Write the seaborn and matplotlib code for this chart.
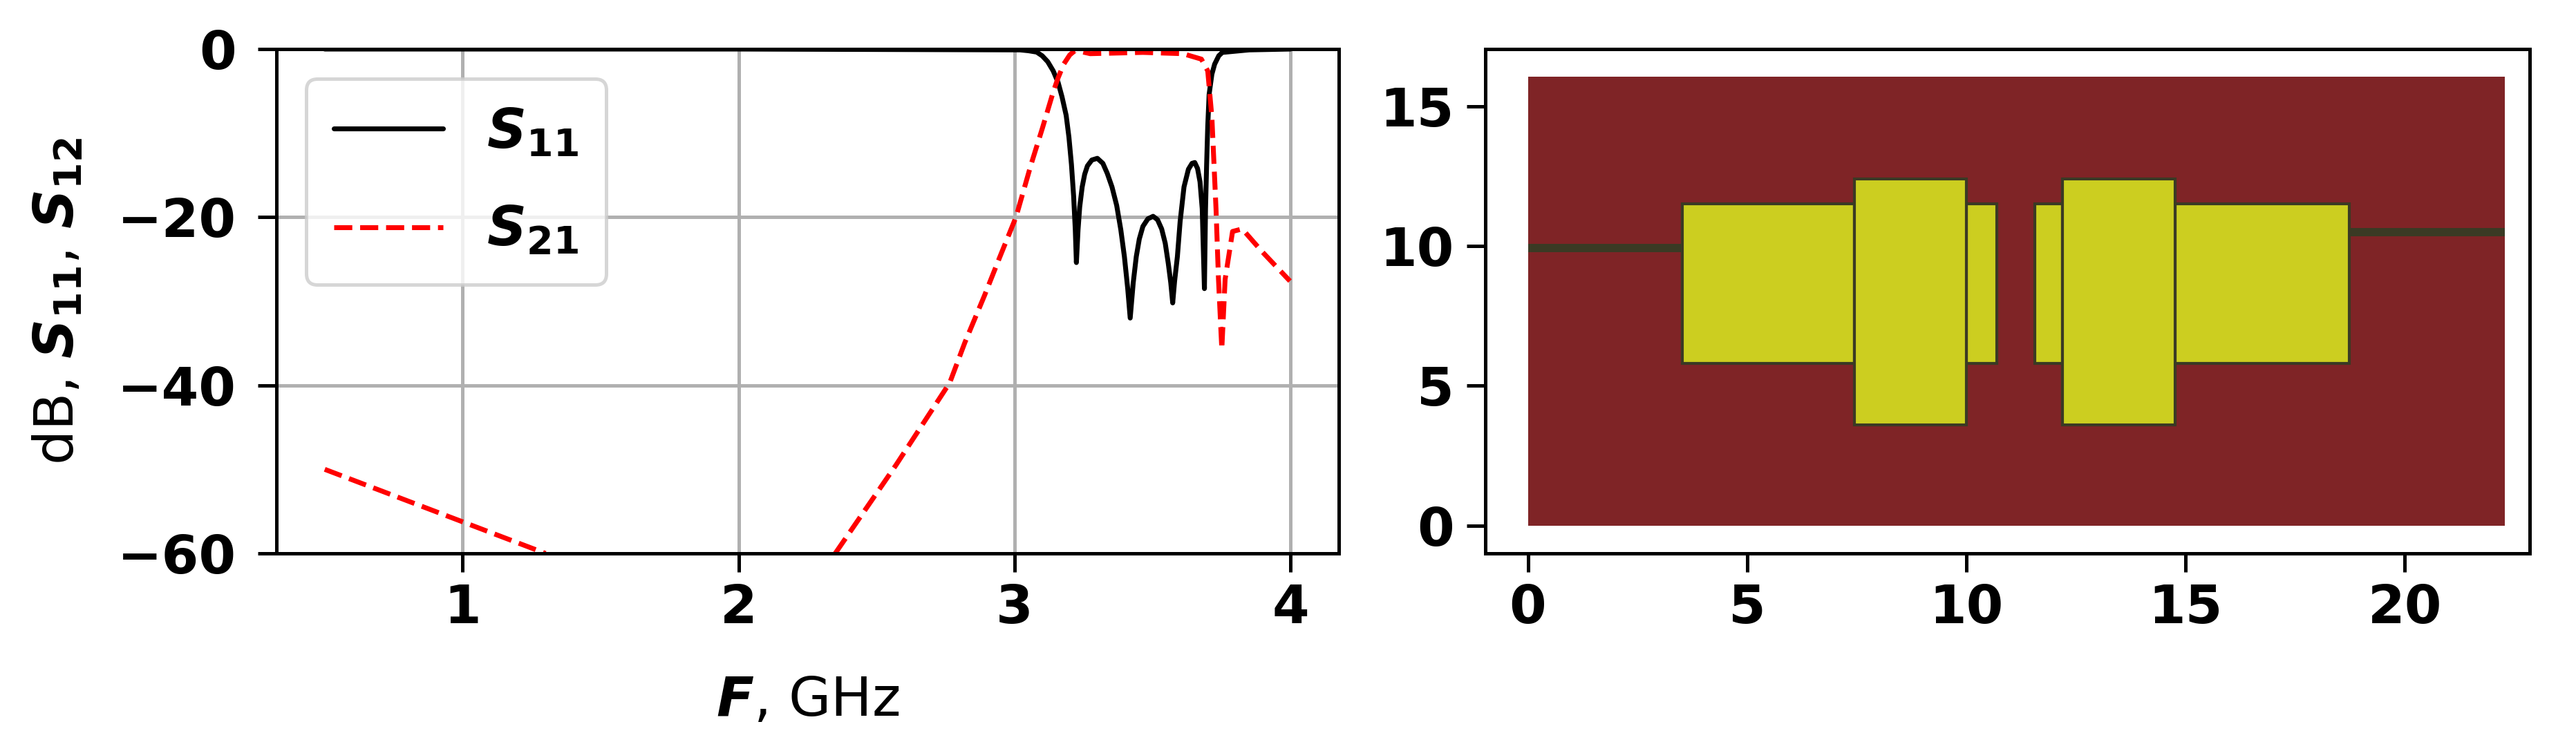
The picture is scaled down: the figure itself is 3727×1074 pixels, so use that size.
import matplotlib
matplotlib.use('Agg')
import pandas as pd
import seaborn as sns
import matplotlib.pyplot as plt

# S11
f_s11 = [0.5, 2.0, 3.02, 3.05, 3.08, 3.10, 3.12, 3.14, 3.158, 3.172, 3.187, 3.197, 3.206, 3.214, 3.22, 3.224,
         3.23, 3.236, 3.245, 3.254, 3.264, 3.28, 3.30, 3.32, 3.336, 3.353, 3.37, 3.385, 3.398, 3.41, 3.419,
         3.43, 3.441, 3.452, 3.465, 3.483, 3.502, 3.518, 3.533, 3.546, 3.557, 3.566, 3.573, 3.58, 3.59, 3.60,
         3.614, 3.63, 3.643, 3.653, 3.663, 3.672, 3.68, 3.688, 3.692, 3.696, 3.70, 3.705, 3.715, 3.725, 3.74,
         3.753, 3.85, 4.0]
s11 = [0.0, 0.0, -0.1, -0.2, -0.36, -0.8, -1.5, -2.6, -4.0, -5.7, -7.9, -10.5, -13.7, -17.5, -21.5, -25.4,
       -21.5, -18.8, -16.4, -14.9, -13.9, -13.2, -13.0, -13.6, -14.8, -16.4, -18.6, -21.5, -24.7, -28.5, -32.0,
       -27.8, -24.7, -22.6, -21.1, -20.2, -19.9, -20.3, -21.4, -23.1, -25.5, -27.8, -30.2, -27.6, -24.7, -20.5,
       -16.4, -14.3, -13.6, -13.5, -14.2, -15.8, -19.0, -28.5, -19.0, -13.7, -9.2, -5.4, -3.0, -1.8, -0.8,
       -0.4, -0.1, 0.0]

# S21 leaves the axes between 1.3 and 2.35 GHz, so two pieces
f_s21_low = [0.5, 1.3]
s21_low = [-50.0, -60.0]
f_s21 = [2.35, 2.57, 2.765, 2.82, 2.89, 2.947, 3.005, 3.06, 3.10, 3.14, 3.158, 3.178, 3.2, 3.22, 3.274, 3.465,
         3.61, 3.677, 3.70, 3.715, 3.73, 3.739, 3.751, 3.763, 3.79, 3.825, 3.897, 3.998]
s21 = [-60.0, -49.5, -39.7, -34.9, -29.4, -24.7, -20.0, -13.7, -9.5, -5.1, -3.4, -1.8, -0.7, -0.15, -0.55, -0.4,
       -0.55, -1.2, -2.6, -8.1, -19.0, -27.4, -35.7, -27.4, -21.7, -21.4, -24.1, -27.6]

# layout panel: substrate, patches, feed lines (mm)
substrate_x = [0.0, 22.28]
substrate_y = [0.0, 16.05]
patch_left = [3.52, 10.0, 11.57, 14.76, 7.45, 12.2]
patch_right = [7.45, 10.7, 12.2, 18.73, 10.0, 14.76]
patch_bottom = [5.8, 5.8, 5.8, 5.8, 3.6, 3.6]
patch_top = [11.5, 11.5, 11.5, 11.5, 12.4, 12.4]
feed_left = [0.0, 18.73]
feed_right = [3.52, 22.28]
feed_bottom = [9.78, 10.35]
feed_top = [10.08, 10.65]

sns.set_style('ticks')
plt.rcParams.update({'font.size': 19, 'font.weight': 'bold', 'axes.linewidth': 1.2, 'mathtext.fontset': 'dejavusans',
                     'xtick.major.size': 6.4, 'ytick.major.size': 6.4, 'xtick.major.width': 1.2,
                     'ytick.major.width': 1.2, 'xtick.color': 'black', 'ytick.color': 'black',
                     'text.color': 'black', 'axes.labelcolor': 'black', 'axes.edgecolor': 'black'})
plt.rcParams['font.family'] = ['DejaVu Sans']

fig = plt.figure(figsize=(3727 / 300, 1074 / 300), dpi=300)
ax1 = fig.add_axes([400 / 3727, 1 - 801 / 1074, 1537 / 3727, 730 / 1074])
ax2 = fig.add_axes([2149 / 3727, 1 - 801 / 1074, 1511 / 3727, 730 / 1074])

lab11 = r'$\mathbfit{S}_{\mathbf{11}}$'
lab21 = r'$\mathbfit{S}_{\mathbf{21}}$'
lab12 = r'$\mathbfit{S}_{\mathbf{12}}$'
sns.lineplot(data=pd.DataFrame({'f': f_s11, 'db': s11}), x='f', y='db', ax=ax1, color='black', lw=1.7,
             label=lab11, estimator=None, sort=False)
sns.lineplot(data=pd.DataFrame({'f': f_s21, 'db': s21}), x='f', y='db', ax=ax1, color='red', lw=1.7,
             linestyle='--', label=lab21, estimator=None, sort=False)
sns.lineplot(data=pd.DataFrame({'f': f_s21_low, 'db': s21_low}), x='f', y='db', ax=ax1, color='red', lw=1.7,
             linestyle='--', estimator=None, sort=False)
ax1.set_xlim(0.325, 4.175)
ax1.set_ylim(-60, 0)
ax1.set_xticks([1, 2, 3, 4])
ax1.set_yticks([-60, -40, -20, 0])
ax1.grid(True, color='#b0b0b0', lw=1.2)
ax1.set_axisbelow(True)
ax1.set_xlabel(r'$\mathbfit{F}$, GHz', fontsize=19, fontweight='normal')
ax1.set_ylabel('dB, ' + lab11 + ', ' + lab12, fontsize=19, fontweight='normal')
ax1.yaxis.set_label_coords(-0.18, 0.5)
ax1.xaxis.set_label_coords(0.5, -0.24)
leg = ax1.legend(loc='upper left', fontsize=19, labelspacing=0.82, borderpad=0.5, bbox_to_anchor=(0.028, 0.941),
                 borderaxespad=0)
leg.get_frame().set_linewidth(1.2)

ax2.bar(substrate_x[0], substrate_y[1] - substrate_y[0], width=substrate_x[1] - substrate_x[0],
        bottom=substrate_y[0], align='edge', color='#7f2426', lw=0)
for x0, x1, y0, y1 in zip(patch_left, patch_right, patch_bottom, patch_top):
    ax2.bar(x0, y1 - y0, width=x1 - x0, bottom=y0, align='edge', color='#ccce20', edgecolor='#3a3a24', lw=1.0)
for x0, x1, y0, y1 in zip(feed_left, feed_right, feed_bottom, feed_top):
    ax2.bar(x0, y1 - y0, width=x1 - x0, bottom=y0, align='edge', color='#3a3a24', lw=0)
ax2.set_xlim(-0.97, 22.85)
ax2.set_ylim(-1, 17.05)
ax2.set_xticks([0, 5, 10, 15, 20])
ax2.set_yticks([0, 5, 10, 15])
for ax in (ax1, ax2):
    ax.tick_params(labelsize=18.5)
    for t in ax.get_xticklabels() + ax.get_yticklabels():
        t.set_fontweight('bold')
ax1.tick_params(axis='y', pad=7.5)
ax1.tick_params(axis='x', pad=4)
ax2.tick_params(axis='x', pad=4)
ax2.tick_params(axis='y', pad=4.5)

fig.savefig('out.png', dpi=300)
